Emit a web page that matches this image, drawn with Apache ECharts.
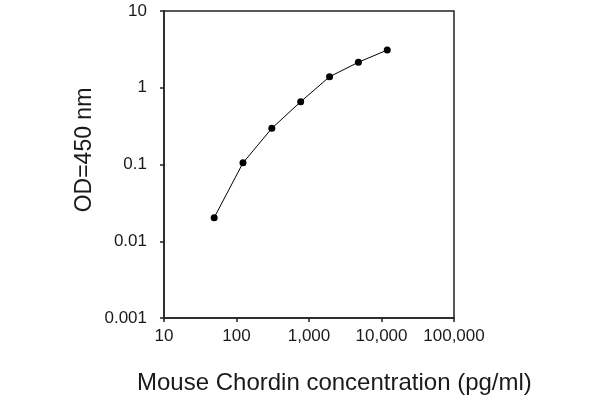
<!DOCTYPE html>
<html>
<head>
<meta charset="utf-8">
<script src="https://cdn.jsdelivr.net/npm/echarts@6/dist/echarts.min.js"></script>
<style>
html,body{margin:0;padding:0;background:#fff;}
#chart{width:600px;height:400px;}
</style>
</head>
<body>
<div id="chart"></div>
<script>
// Data
const concentrations = [49.2, 122.9, 307.2, 768, 1920, 4800, 12000];
const odValues = [0.0203, 0.105, 0.296, 0.658, 1.39, 2.15, 3.10];
const xTickLabels = ['10', '100', '1,000', '10,000', '100,000'];
const yTickLabels = ['0.001', '0.01', '0.1', '1', '10'];
const xTitle = 'Mouse Chordin concentration (pg/ml)';
const yTitle = 'OD=450 nm';

const seriesData = concentrations.map((c, i) => [c, odValues[i]]);
const FONT = '"Liberation Sans", Arial, sans-serif';
const ink = '#1a1a1a';

const chart = echarts.init(document.getElementById('chart'), null, {renderer: 'canvas'});
chart.setOption({
  animation: false,
  backgroundColor: '#fff',
  grid: {left: 164, right: 146, top: 11, bottom: 82, show: true, borderColor: '#222', borderWidth: 1.5, backgroundColor: 'transparent'},
  xAxis: {
    type: 'log', logBase: 10, min: 10, max: 100000,
    axisLine: {show: true, lineStyle: {color: '#222', width: 1.5}},
    axisTick: {show: true, inside: false, length: 4, lineStyle: {color: '#222', width: 1.5}},
    minorTick: {show: false},
    splitLine: {show: false},
    axisLabel: {
      margin: 10, color: ink, fontFamily: FONT, fontSize: 17,
      formatter: v => xTickLabels[Math.round(Math.log10(v)) - 1]
    }
  },
  yAxis: {
    type: 'log', logBase: 10, min: 0.001, max: 10,
    axisLine: {show: true, lineStyle: {color: '#222', width: 1.5}},
    axisTick: {show: true, inside: false, length: 4, lineStyle: {color: '#222', width: 1.5}},
    splitLine: {show: false},
    axisLabel: {
      margin: 17, color: ink, fontFamily: FONT, fontSize: 17,
      formatter: v => yTickLabels[Math.round(Math.log10(v)) + 3]
    }
  },
  series: [{
    type: 'line',
    data: seriesData,
    symbol: 'circle',
    symbolSize: 7,
    itemStyle: {color: '#000'},
    lineStyle: {color: '#000', width: 1},
    z: 5
  }],
  graphic: [
    {type: 'text', x: 137, y: 383, style: {text: xTitle, font: '24px ' + FONT, fill: ink, textAlign: 'left', textVerticalAlign: 'middle'}},
    {type: 'text', x: 85, y: 150, rotation: Math.PI / 2, style: {text: yTitle, font: '23px ' + FONT, fill: ink, textAlign: 'center', textVerticalAlign: 'middle'}}
  ]
});
</script>
</body>
</html>
